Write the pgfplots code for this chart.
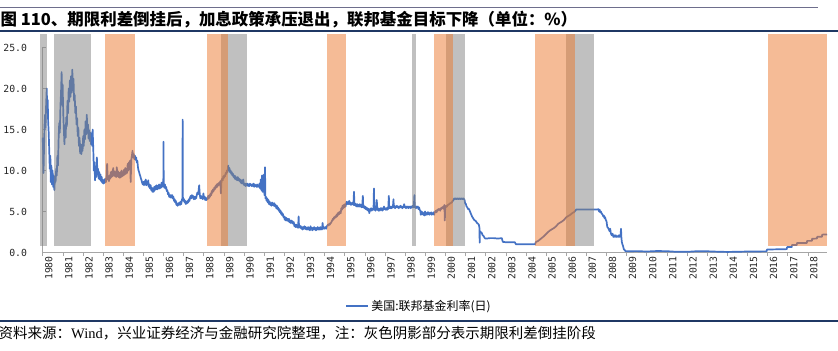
\documentclass[border=0pt]{standalone}
\usepackage{pgfplots}
\pgfplotsset{compat=1.18}
\usepackage{pgfplotstable}
\usepackage{fontspec}
\setmainfont{Liberation Sans}
\newfontfamily\cjk{Noto Sans CJK SC}
\newfontfamily\tickfont{DejaVu Sans Mono}
\newfontfamily\wind{Liberation Serif}
\definecolor{lineblue}{RGB}{68,114,196}
\definecolor{bandgray}{RGB}{129,129,129}
\definecolor{bandorange}{RGB}{235,120,45}
\definecolor{navy}{RGB}{31,56,100}
\definecolor{topline}{RGB}{110,110,140}
\definecolor{axgray}{RGB}{166,166,166}

\pgfplotstableread{
x y
1980.00 14.0
1980.02 12.5
1980.04 9.7
1980.06 12.0
1980.09 15.5
1980.12 16.8
1980.14 15.2
1980.17 18.0
1980.20 20.0
1980.22 18.0
1980.25 18.6
1980.27 16.0
1980.30 14.5
1980.33 12.0
1980.35 10.2
1980.38 11.8
1980.40 8.6
1980.43 10.6
1980.46 8.3
1980.49 10.0
1980.52 8.0
1980.55 9.4
1980.58 7.6
1980.61 9.2
1980.64 8.6
1980.67 10.2
1980.70 9.4
1980.73 11.8
1980.76 10.6
1980.79 13.8
1980.82 15.8
1980.85 14.6
1980.88 17.8
1980.91 19.5
1980.94 22.0
1980.96 18.0
1980.99 20.5
1981.02 17.0
1981.05 15.0
1981.08 13.2
1981.11 15.5
1981.14 14.0
1981.17 16.5
1981.20 15.4
1981.23 18.5
1981.26 17.0
1981.29 20.0
1981.32 18.4
1981.35 21.0
1981.38 19.0
1981.41 21.5
1981.44 19.5
1981.47 22.3
1981.50 20.0
1981.53 21.2
1981.56 18.5
1981.59 19.2
1981.62 17.0
1981.65 17.8
1981.68 15.6
1981.71 16.4
1981.74 14.2
1981.77 15.2
1981.80 13.0
1981.83 14.0
1981.86 12.1
1981.89 13.2
1981.92 12.0
1981.95 13.0
1981.98 12.4
1982.01 14.2
1982.04 13.0
1982.07 15.0
1982.10 13.8
1982.13 16.0
1982.16 14.4
1982.19 16.8
1982.22 14.6
1982.25 15.6
1982.28 13.9
1982.31 14.9
1982.34 13.6
1982.37 14.6
1982.40 13.2
1982.43 14.2
1982.46 13.0
1982.48 15.0
1982.51 12.8
1982.54 10.0
1982.57 11.0
1982.60 8.8
1982.63 10.5
1982.66 9.2
1982.69 11.6
1982.72 9.5
1982.75 10.2
1982.78 9.0
1982.81 9.8
1982.84 8.9
1982.87 9.5
1982.90 8.7
1982.93 9.2
1982.96 8.5
1982.99 8.8
1983.02 8.4
1983.05 8.9
1983.08 8.5
1983.11 9.0
1983.14 8.6
1983.17 9.2
1983.20 10.8
1983.23 8.9
1983.26 9.2
1983.29 8.7
1983.32 9.4
1983.35 9.0
1983.38 9.8
1983.41 9.2
1983.44 9.9
1983.47 9.3
1983.50 10.3
1983.53 9.4
1983.56 9.9
1983.59 9.3
1983.62 9.8
1983.65 9.2
1983.68 10.4
1983.71 9.3
1983.74 9.9
1983.77 9.2
1983.80 9.7
1983.83 9.1
1983.86 9.8
1983.89 9.2
1983.92 10.0
1983.95 9.3
1983.98 9.8
1984.01 9.4
1984.04 10.1
1984.07 9.5
1984.10 10.3
1984.13 9.6
1984.16 10.2
1984.19 9.7
1984.22 10.8
1984.25 10.0
1984.28 11.0
1984.31 10.4
1984.34 11.2
1984.37 8.6
1984.40 11.3
1984.43 11.8
1984.46 12.4
1984.49 11.6
1984.52 12.0
1984.55 11.4
1984.58 11.8
1984.61 11.3
1984.64 11.6
1984.67 11.0
1984.70 11.2
1984.73 10.4
1984.76 10.0
1984.79 9.8
1984.82 9.5
1984.85 9.3
1984.88 9.0
1984.91 8.8
1984.94 8.5
1984.97 8.3
1985.00 8.6
1985.03 8.2
1985.06 8.7
1985.09 8.3
1985.12 8.9
1985.15 8.2
1985.18 8.6
1985.21 8.3
1985.24 8.8
1985.27 8.0
1985.30 8.3
1985.33 7.8
1985.36 8.2
1985.39 7.6
1985.42 7.9
1985.45 7.4
1985.48 7.8
1985.51 7.4
1985.54 8.0
1985.57 7.6
1985.60 8.1
1985.63 7.7
1985.66 8.2
1985.69 7.7
1985.72 8.1
1985.75 7.8
1985.78 8.3
1985.81 7.8
1985.84 8.2
1985.87 7.9
1985.90 8.5
1985.93 8.0
1985.96 8.6
1985.99 8.1
1986.00 13.5
1986.01 8.2
1986.04 7.9
1986.07 8.3
1986.10 7.8
1986.13 8.0
1986.16 7.5
1986.19 7.6
1986.22 7.1
1986.25 7.3
1986.28 6.8
1986.31 7.0
1986.34 6.7
1986.37 7.0
1986.40 6.7
1986.43 7.0
1986.46 6.6
1986.49 6.8
1986.52 6.3
1986.55 6.5
1986.58 6.1
1986.61 6.3
1986.64 5.8
1986.67 6.0
1986.70 5.7
1986.73 6.0
1986.76 5.8
1986.79 6.1
1986.82 5.8
1986.85 6.2
1986.88 5.9
1986.91 6.4
1986.94 6.6
1986.95 16.2
1986.96 6.8
1986.99 6.3
1987.02 6.5
1987.05 6.1
1987.08 6.3
1987.11 5.9
1987.14 6.2
1987.17 6.0
1987.20 6.3
1987.23 6.1
1987.26 6.5
1987.29 6.3
1987.32 6.7
1987.35 6.9
1987.38 6.6
1987.41 7.0
1987.44 6.7
1987.47 6.9
1987.50 6.5
1987.53 6.8
1987.56 6.5
1987.59 6.8
1987.62 6.6
1987.65 7.0
1987.68 7.3
1987.71 7.1
1987.74 7.5
1987.77 8.2
1987.80 7.1
1987.83 6.6
1987.86 6.9
1987.89 6.6
1987.92 6.8
1987.95 6.5
1987.98 7.2
1988.01 6.6
1988.04 6.8
1988.07 6.4
1988.10 6.7
1988.13 6.4
1988.16 6.6
1988.19 6.5
1988.22 6.9
1988.25 6.6
1988.28 7.0
1988.31 6.8
1988.34 7.2
1988.37 7.0
1988.40 7.5
1988.43 7.3
1988.46 7.7
1988.49 7.5
1988.52 7.9
1988.55 7.7
1988.58 8.1
1988.61 7.9
1988.64 8.3
1988.67 8.0
1988.70 8.4
1988.73 8.2
1988.76 8.5
1988.79 8.3
1988.82 8.7
1988.85 7.2
1988.88 8.8
1988.91 9.0
1988.94 8.8
1988.97 9.3
1989.00 9.1
1989.03 9.4
1989.06 9.3
1989.09 9.7
1989.12 9.6
1989.15 10.0
1989.18 9.8
1989.21 10.6
1989.24 10.1
1989.27 10.3
1989.30 9.8
1989.33 10.0
1989.36 9.6
1989.39 9.8
1989.42 9.4
1989.45 9.6
1989.48 9.2
1989.51 9.4
1989.54 9.0
1989.57 9.3
1989.60 8.9
1989.63 9.1
1989.66 8.8
1989.69 9.2
1989.72 8.8
1989.75 9.0
1989.78 8.7
1989.81 8.9
1989.84 8.5
1989.87 8.8
1989.90 8.4
1989.93 8.7
1989.96 8.9
1989.99 8.3
1990.02 8.2
1990.05 8.4
1990.08 8.1
1990.11 8.4
1990.14 8.2
1990.17 8.4
1990.20 8.1
1990.23 8.3
1990.26 8.1
1990.29 8.4
1990.32 8.2
1990.35 8.3
1990.38 8.1
1990.41 8.3
1990.44 8.1
1990.47 8.4
1990.50 8.0
1990.53 8.3
1990.56 8.1
1990.59 8.2
1990.62 8.0
1990.65 8.3
1990.68 8.0
1990.71 8.2
1990.74 8.0
1990.77 8.4
1990.80 7.8
1990.83 8.9
1990.86 7.6
1990.89 9.4
1990.92 7.4
1990.95 8.6
1990.98 9.5
1991.01 7.0
1991.04 10.4
1991.06 6.6
1991.09 6.8
1991.12 6.3
1991.15 6.6
1991.18 6.1
1991.21 6.4
1991.24 5.9
1991.27 6.2
1991.30 5.8
1991.33 6.0
1991.36 5.7
1991.39 6.1
1991.42 5.8
1991.45 6.0
1991.48 5.7
1991.51 6.0
1991.54 5.6
1991.57 5.8
1991.60 5.4
1991.63 5.7
1991.66 5.3
1991.69 5.5
1991.72 5.1
1991.75 5.3
1991.78 4.9
1991.81 5.1
1991.84 4.7
1991.87 4.9
1991.90 4.5
1991.93 4.7
1991.96 4.3
1991.99 4.4
1992.02 4.0
1992.05 4.3
1992.08 3.9
1992.11 4.2
1992.14 3.9
1992.17 4.1
1992.20 3.8
1992.23 4.1
1992.26 3.7
1992.29 3.9
1992.32 3.6
1992.35 3.9
1992.38 3.6
1992.41 3.8
1992.44 3.5
1992.47 3.7
1992.50 3.2
1992.53 3.4
1992.56 3.1
1992.59 3.4
1992.62 3.1
1992.65 3.3
1992.68 3.0
1992.71 4.4
1992.73 3.1
1992.76 3.3
1992.79 3.0
1992.82 3.2
1992.85 2.9
1992.88 3.1
1992.91 2.8
1992.94 3.1
1992.97 2.9
1993.00 3.2
1993.03 2.9
1993.06 3.1
1993.09 2.8
1993.12 3.0
1993.15 2.8
1993.18 3.1
1993.21 2.8
1993.24 3.0
1993.27 2.7
1993.30 3.2
1993.33 2.9
1993.36 3.0
1993.39 2.7
1993.42 3.0
1993.45 2.8
1993.48 3.1
1993.51 2.8
1993.54 3.0
1993.57 2.7
1993.60 3.0
1993.63 2.8
1993.66 3.1
1993.69 2.8
1993.72 3.0
1993.75 2.8
1993.78 3.1
1993.81 2.8
1993.84 3.0
1993.87 2.8
1993.90 3.6
1993.93 2.9
1993.96 3.1
1993.99 2.9
1994.02 3.0
1994.05 3.1
1994.08 2.9
1994.11 3.2
1994.14 3.3
1994.17 3.4
1994.20 3.3
1994.23 3.5
1994.26 3.4
1994.29 3.6
1994.32 3.6
1994.35 3.8
1994.38 3.9
1994.41 4.1
1994.44 4.0
1994.47 4.3
1994.50 4.2
1994.53 4.4
1994.56 4.3
1994.59 4.6
1994.62 4.4
1994.65 4.8
1994.68 4.6
1994.71 4.9
1994.74 4.7
1994.77 5.0
1994.80 4.8
1994.83 5.4
1994.86 5.2
1994.89 5.7
1994.92 5.4
1994.95 5.8
1994.98 5.5
1995.01 5.9
1995.04 5.6
1995.07 6.0
1995.10 6.2
1995.13 5.9
1995.16 6.1
1995.19 5.9
1995.22 6.3
1995.25 5.9
1995.28 6.1
1995.31 5.8
1995.34 6.0
1995.37 5.9
1995.40 6.1
1995.43 5.8
1995.46 7.4
1995.48 5.8
1995.51 6.0
1995.54 5.7
1995.57 5.9
1995.60 5.6
1995.63 5.9
1995.66 5.6
1995.69 5.8
1995.72 5.6
1995.75 5.9
1995.78 5.6
1995.81 5.8
1995.84 5.5
1995.87 5.8
1995.90 6.9
1995.92 5.5
1995.95 5.7
1995.98 5.4
1996.01 5.6
1996.04 5.3
1996.07 5.5
1996.10 5.2
1996.13 5.4
1996.16 5.1
1996.19 5.3
1996.22 4.8
1996.25 5.3
1996.28 5.1
1996.31 5.4
1996.34 5.1
1996.37 5.3
1996.40 5.2
1996.43 5.4
1996.45 7.8
1996.47 5.2
1996.50 5.5
1996.53 5.1
1996.56 5.4
1996.59 6.4
1996.62 5.2
1996.65 5.4
1996.68 5.1
1996.71 5.3
1996.74 5.1
1996.77 5.4
1996.80 5.2
1996.83 5.4
1996.86 5.1
1996.89 5.4
1996.92 5.2
1996.95 5.6
1996.98 5.3
1997.01 5.4
1997.04 5.2
1997.07 5.4
1997.10 5.2
1997.13 5.5
1997.16 5.3
1997.19 6.9
1997.21 5.4
1997.24 5.6
1997.27 5.4
1997.30 5.6
1997.33 5.4
1997.36 5.6
1997.39 5.5
1997.42 6.5
1997.44 5.5
1997.47 5.7
1997.50 5.4
1997.53 5.6
1997.56 5.5
1997.59 5.7
1997.62 5.5
1997.65 5.6
1997.68 5.4
1997.71 5.6
1997.74 5.5
1997.77 5.7
1997.80 5.5
1997.83 5.6
1997.86 5.4
1997.89 5.6
1997.92 5.5
1997.95 5.9
1997.98 5.5
1998.01 5.6
1998.04 5.4
1998.07 5.6
1998.10 5.5
1998.13 5.6
1998.16 5.4
1998.19 5.6
1998.22 5.5
1998.25 5.6
1998.28 5.4
1998.31 5.6
1998.34 5.5
1998.37 5.7
1998.40 5.5
1998.43 5.6
1998.46 7.0
1998.48 5.5
1998.51 5.6
1998.54 5.4
1998.57 5.6
1998.60 5.5
1998.63 5.6
1998.66 5.3
1998.69 5.5
1998.72 5.2
1998.75 5.1
1998.78 4.6
1998.81 5.0
1998.84 4.7
1998.87 4.9
1998.90 4.6
1998.93 4.8
1998.96 4.5
1998.99 5.0
1999.02 4.6
1999.05 4.8
1999.08 4.6
1999.11 4.9
1999.14 4.7
1999.17 4.9
1999.20 4.6
1999.23 4.8
1999.26 4.7
1999.29 4.9
1999.32 4.6
1999.35 4.8
1999.38 4.7
1999.41 4.9
1999.44 4.6
1999.47 4.9
1999.50 5.0
1999.53 5.1
1999.56 4.9
1999.59 5.2
1999.62 5.1
1999.65 5.3
1999.68 5.2
1999.71 5.3
1999.74 5.1
1999.77 5.4
1999.80 5.3
1999.83 5.5
1999.86 5.4
1999.89 5.6
1999.92 5.3
1999.95 5.8
1999.97 3.9
1999.99 5.5
2000.02 5.5
2000.05 5.7
2000.08 5.6
2000.11 5.8
2000.14 5.8
2000.17 5.9
2000.20 5.9
2000.23 6.0
2000.26 6.0
2000.29 6.1
2000.32 6.1
2000.35 6.3
2000.38 6.3
2000.41 6.5
2000.44 6.6
2000.47 6.5
2000.50 6.6
2000.55 6.5
2000.60 6.6
2000.65 6.5
2000.70 6.6
2000.75 6.5
2000.80 6.6
2000.85 6.5
2000.90 6.6
2000.95 6.4
2000.98 6.0
2001.02 5.9
2001.05 5.6
2001.09 5.5
2001.12 5.3
2001.17 5.3
2001.22 5.0
2001.27 4.7
2001.32 4.4
2001.37 4.2
2001.42 4.0
2001.47 3.9
2001.52 3.8
2001.57 3.6
2001.62 3.5
2001.66 3.4
2001.69 3.0
2001.70 1.2
2001.71 2.6
2001.75 2.5
2001.80 2.4
2001.85 2.1
2001.90 2.0
2001.94 1.8
2001.98 1.7
2002.05 1.7
2002.20 1.75
2002.40 1.75
2002.60 1.7
2002.80 1.75
2002.85 1.3
2003.00 1.25
2003.45 1.25
2003.50 1.0
2004.00 1.0
2004.45 1.0
2004.50 1.3
2004.60 1.4
2004.70 1.6
2004.80 1.8
2004.90 2.0
2005.00 2.25
2005.10 2.5
2005.20 2.7
2005.30 2.85
2005.40 3.0
2005.50 3.2
2005.60 3.5
2005.70 3.65
2005.80 3.8
2005.90 4.0
2006.00 4.3
2006.10 4.45
2006.20 4.6
2006.30 4.8
2006.40 4.95
2006.50 5.25
2007.55 5.25
2007.60 5.3
2007.63 5.0
2007.66 5.2
2007.69 4.9
2007.72 5.0
2007.75 4.8
2007.78 4.7
2007.81 4.6
2007.84 4.4
2007.87 4.5
2007.90 4.2
2007.93 4.3
2007.96 4.0
2008.00 3.8
2008.04 3.1
2008.08 3.0
2008.12 2.8
2008.15 2.6
2008.18 2.9
2008.22 2.3
2008.26 2.1
2008.30 2.3
2008.34 1.9
2008.38 2.1
2008.42 1.9
2008.46 2.1
2008.50 1.9
2008.54 2.0
2008.58 1.9
2008.62 2.1
2008.66 1.9
2008.70 2.2
2008.72 2.9
2008.74 1.8
2008.76 1.3
2008.79 1.0
2008.82 0.8
2008.86 0.4
2008.90 0.3
2008.95 0.15
2009.50 0.17
2010.00 0.12
2010.50 0.18
2011.00 0.16
2011.50 0.08
2012.00 0.08
2012.50 0.16
2013.00 0.15
2013.50 0.10
2014.00 0.07
2014.50 0.09
2015.00 0.12
2015.50 0.13
2015.95 0.14
2015.97 0.36
2016.50 0.39
2016.95 0.41
2016.97 0.66
2017.20 0.66
2017.21 0.91
2017.45 0.91
2017.46 1.16
2017.95 1.16
2017.96 1.42
2018.20 1.42
2018.21 1.68
2018.45 1.70
2018.46 1.91
2018.70 1.92
2018.71 2.18
2018.95 2.20
}\ffr

\begin{document}
\begin{tikzpicture}
\useasboundingbox (0,0) rectangle (838bp,351bp);
% decorative lines
\draw[topline, line width=0.8bp] (0bp,343.7bp) -- (818bp,343.7bp);
\draw[navy, line width=1.8bp] (0bp,320bp) -- (838bp,320bp);
\draw[navy, line width=1.5bp] (0bp,30bp) -- (838bp,30bp);
% title
\node[anchor=base west, inner sep=0pt] at (0.5bp,325bp)
  {\cjk\bfseries\fontsize{16.45bp}{18bp}\selectfont 图 110、期限利差倒挂后，加息政策承压退出，联邦基金目标下降（单位：\%）};
% source
\node[anchor=base west, inner sep=0pt] at (-1.5bp,13bp)
  {\cjk\fontsize{14.5bp}{16bp}\selectfont 资料来源：{\wind Wind}，兴业证券经济与金融研究院整理，注：灰色阴影部分表示期限利差倒挂阶段};

\begin{axis}[
  at={(42.7bp,98.5bp)}, anchor=south west,
  scale only axis, width=784.3bp, height=205bp,
  xmin=1980, xmax=2018.95, ymin=0, ymax=25,
  clip=false,
  axis x line*=bottom, axis y line*=left,
  x axis line style={draw=axgray, line width=0.8bp, -},
  y axis line style={draw=axgray, line width=0.8bp, -},
  tick align=outside,
  major tick length=3.5bp,
  xtick style={draw=axgray, line width=0.6bp},
  ytick style={draw=axgray, line width=0.6bp, xshift=3.5bp},
  xtick={1980,1981,...,2018},
  xticklabels={1980,1981,1982,1983,1984,1985,1986,1987,1988,1989,1990,1991,1992,1993,1994,1995,1996,1997,1998,1999,2000,2001,2002,2003,2004,2005,2006,2007,2008,2009,2010,2011,2012,2013,2014,2015,2016,2017,2018},
  ytick={0,5,10,15,20,25},
  yticklabels={0.0,5.0,10.0,15.0,20.0,25.0},
  ticklabel style={font=\tickfont\fontsize{9.8bp}{10bp}\selectfont, text=black!85},
  xticklabel style={rotate=90, anchor=east, inner sep=0pt, yshift=-6bp},
  yticklabel style={anchor=east, inner sep=0pt, xshift=-12bp},
  legend style={at={(0.48,-0.261)}, anchor=center, draw=none, fill=none,
    font=\cjk\fontsize{12bp}{13bp}\selectfont, inner sep=0pt},
  legend image code/.code={\draw[#1, line width=1.7bp] (0bp,0bp) -- (22bp,0bp);},
]
\addplot[lineblue, line width=1.7bp, line join=round] table[x=x,y=y]{\ffr};
\addlegendentry{美国:联邦基金利率(日)}
% gray: yield-curve inversion periods
\addplot[forget plot, draw=none, fill=bandgray, fill opacity=0.5] coordinates {(1979.85,0.8) (1980.21,0.8) (1980.21,26.6) (1979.85,26.6)} -- cycle;
\addplot[forget plot, draw=none, fill=bandgray, fill opacity=0.5] coordinates {(1980.56,0.8) (1982.42,0.8) (1982.42,26.6) (1980.56,26.6)} -- cycle;
\addplot[forget plot, draw=none, fill=bandgray, fill opacity=0.5] coordinates {(1988.84,0.8) (1990.13,0.8) (1990.13,26.6) (1988.84,26.6)} -- cycle;
\addplot[forget plot, draw=none, fill=bandgray, fill opacity=0.5] coordinates {(1998.35,0.8) (1998.55,0.8) (1998.55,26.6) (1998.35,26.6)} -- cycle;
\addplot[forget plot, draw=none, fill=bandgray, fill opacity=0.5] coordinates {(2000.02,0.8) (2000.95,0.8) (2000.95,26.6) (2000.02,26.6)} -- cycle;
\addplot[forget plot, draw=none, fill=bandgray, fill opacity=0.5] coordinates {(2005.97,0.8) (2007.37,0.8) (2007.37,26.6) (2005.97,26.6)} -- cycle;
% orange: rate-hike periods
\addplot[forget plot, draw=none, fill=bandorange, fill opacity=0.5] coordinates {(1983.10,0.8) (1984.56,0.8) (1984.56,26.6) (1983.10,26.6)} -- cycle;
\addplot[forget plot, draw=none, fill=bandorange, fill opacity=0.5] coordinates {(1988.16,0.8) (1989.21,0.8) (1989.21,26.6) (1988.16,26.6)} -- cycle;
\addplot[forget plot, draw=none, fill=bandorange, fill opacity=0.5] coordinates {(1994.11,0.8) (1995.07,0.8) (1995.07,26.6) (1994.11,26.6)} -- cycle;
\addplot[forget plot, draw=none, fill=bandorange, fill opacity=0.5] coordinates {(1999.42,0.8) (2000.38,0.8) (2000.38,26.6) (1999.42,26.6)} -- cycle;
\addplot[forget plot, draw=none, fill=bandorange, fill opacity=0.5] coordinates {(2004.44,0.8) (2006.44,0.8) (2006.44,26.6) (2004.44,26.6)} -- cycle;
\addplot[forget plot, draw=none, fill=bandorange, fill opacity=0.5] coordinates {(2016.02,0.8) (2018.96,0.8) (2018.96,26.6) (2016.02,26.6)} -- cycle;
\end{axis}
\end{tikzpicture}
\end{document}
